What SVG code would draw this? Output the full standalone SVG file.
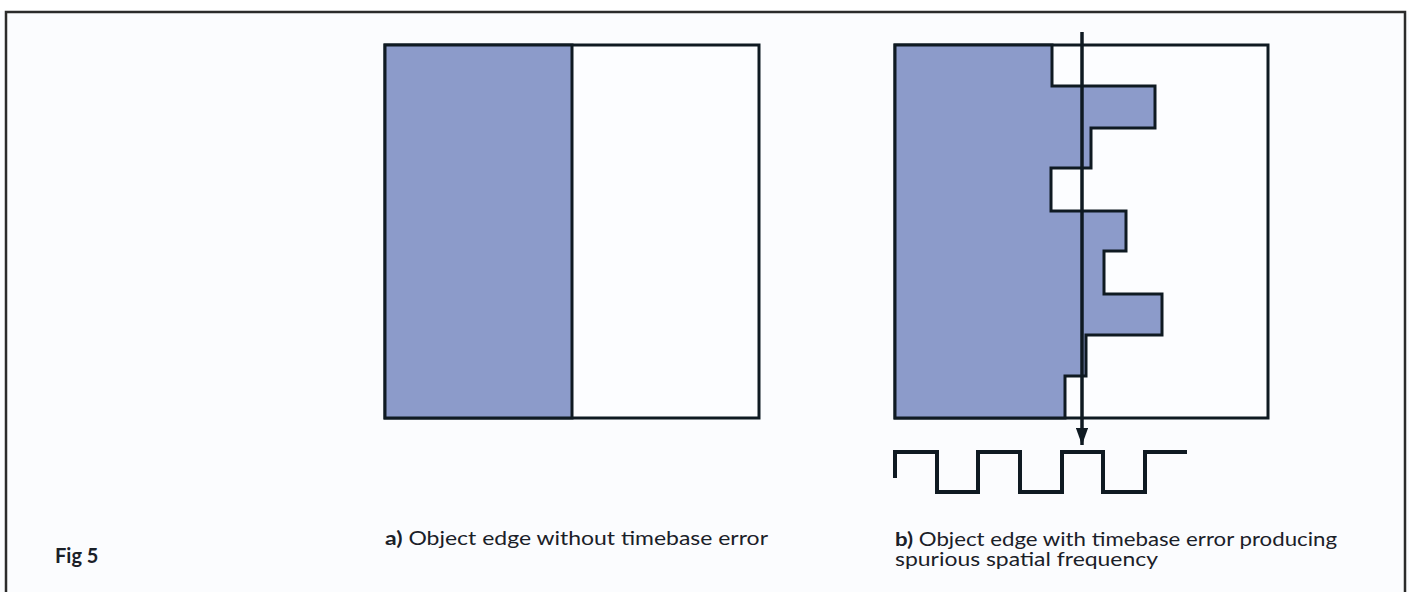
<svg xmlns="http://www.w3.org/2000/svg" width="1409" height="592" viewBox="0 0 1409 592">
<style>
.frame{fill:none;stroke:#1a1d22;stroke-width:3;stroke-linejoin:miter}
.shade{fill:#8c9bca;stroke:#0f1a22;stroke-width:3;stroke-linejoin:miter}
.line{fill:none;stroke:#0f1a22;stroke-width:3.5}
.wave{fill:none;stroke:#0f1a22;stroke-width:4;stroke-linejoin:miter}
.cap{font-family:"Lato","Open Sans","Liberation Sans",sans-serif;font-size:18.5px;fill:#1a2028}
</style>
<defs>
<marker id="ah" viewBox="0 0 10 10" refX="10" refY="5" markerWidth="5" markerHeight="3.6" orient="auto" markerUnits="strokeWidth" preserveAspectRatio="none">
<path d="M0,0 L10,5 L0,10 z" fill="#0f1a22"/>
</marker>
</defs>
<rect x="0" y="0" width="1409" height="592" fill="#fbfcfe"/>
<rect x="0" y="0" width="1409" height="11" fill="#ffffff"/>
<path d="M6,592 V12 H1405 V592" fill="none" stroke="#2b2b2b" stroke-width="2.5"/>
<g id="panel-a">
<rect x="385" y="45" width="374" height="373" fill="#fcfdff" stroke="#0f1a22" stroke-width="3"/>
<rect x="385" y="45" width="187" height="373" class="shade"/>
</g>
<g id="panel-b">
<rect x="895" y="45" width="373" height="373" fill="#fcfdff" stroke="#0f1a22" stroke-width="3"/>
<path class="shade" d="M895,45 H1052 V86 H1155 V128 H1091 V168 H1051 V211 H1126 V251 H1104 V294 H1162 V335 H1086 V376 H1065 V418 H895 Z"/>
</g>
<g id="connectors">
<line class="line" x1="1082" y1="32" x2="1082" y2="445" marker-end="url(#ah)"/>
</g>
<g id="waveform">
<path class="wave" d="M895,478 V452 H937 V492 H978 V452 H1020 V492 H1062 V452 H1103 V492 H1145 V452 H1187"/>
</g>
<g id="labels">
<text class="cap" x="385" y="545" textLength="383" lengthAdjust="spacingAndGlyphs"><tspan font-weight="bold">a)</tspan> Object edge without timebase error</text>
<text class="cap" x="895" y="546" textLength="442" lengthAdjust="spacingAndGlyphs"><tspan font-weight="bold">b)</tspan> Object edge with timebase error producing</text>
<text class="cap" x="895" y="566" textLength="263" lengthAdjust="spacingAndGlyphs">spurious spatial frequency</text>
<text x="55" y="563" font-family="Lato,'Liberation Sans',sans-serif" font-weight="bold" font-size="20" fill="#1a2028">Fig 5</text>
</g>
</svg>
